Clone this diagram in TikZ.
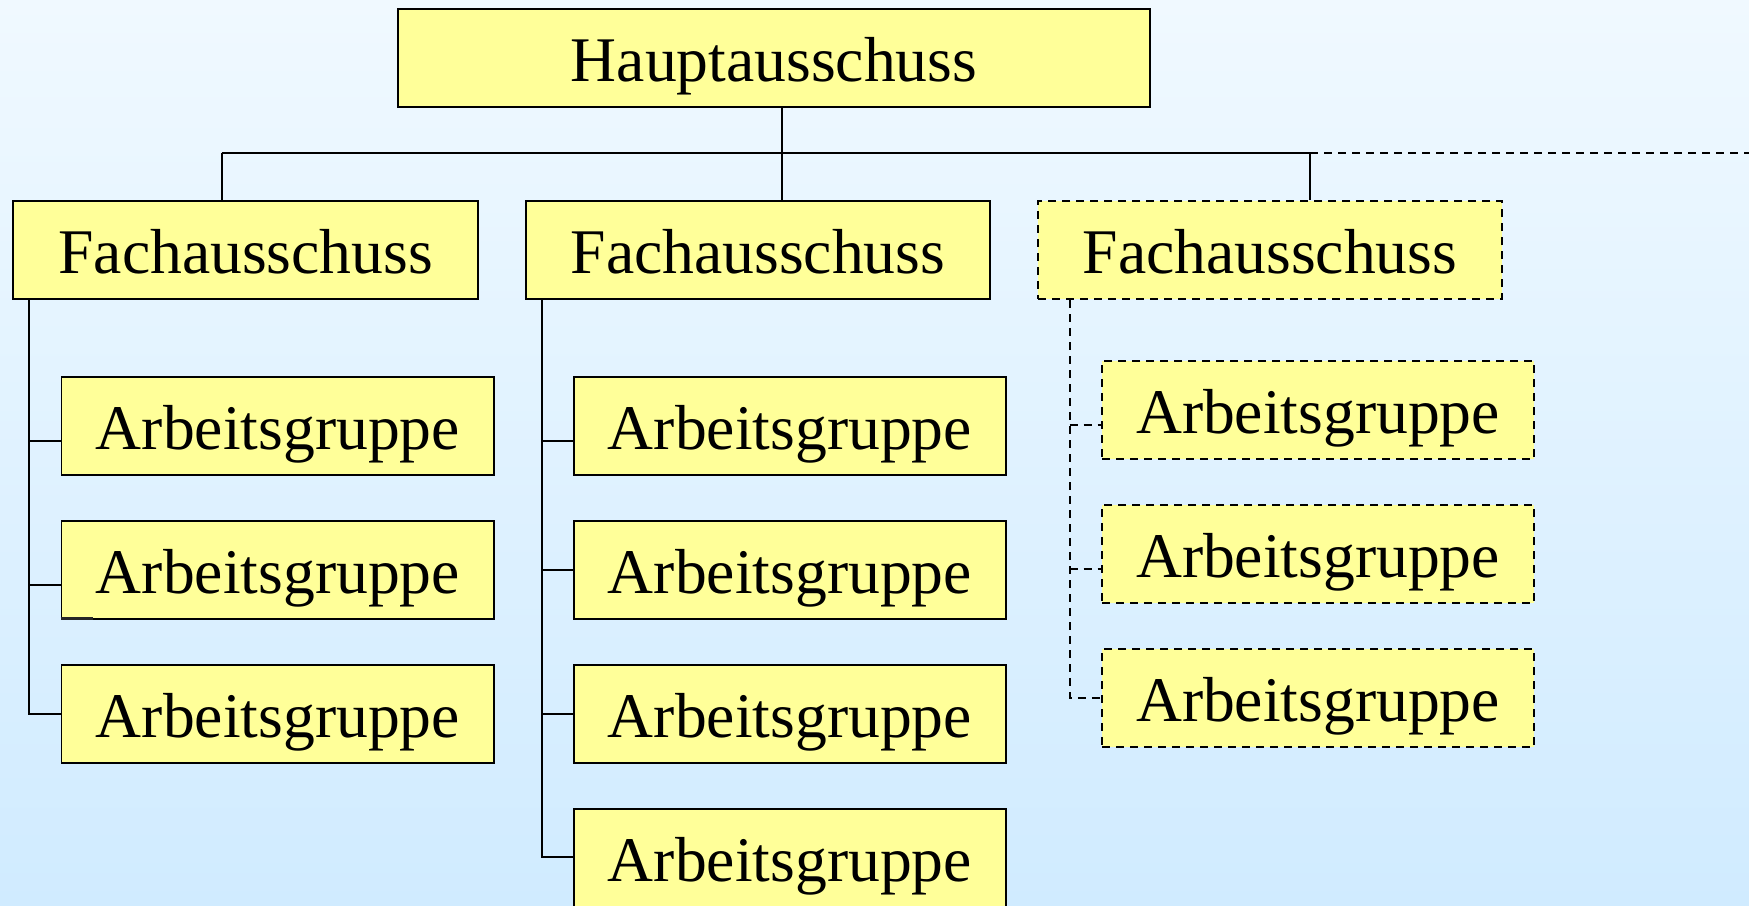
\documentclass[tikz,border=0pt]{standalone}
\usepackage{fontspec}
\setmainfont{Liberation Serif}
\begin{document}
\begin{tikzpicture}[x=0.5pt,y=-0.5pt,
  box/.style={draw=black, line width=0.9pt, fill={rgb,255:red,255;green,255;blue,153},
    inner sep=0pt, minimum height=49pt, text height=23pt, text depth=0pt,
    font=\fontsize{31.8}{36}\selectfont},
  dbox/.style={box, dash pattern=on 4pt off 3pt},
  conn/.style={draw=black, line width=0.9pt},
  dconn/.style={conn, dash pattern=on 4pt off 3pt}]
\fill[top color={rgb,255:red,240;green,249;blue,255}, bottom color={rgb,255:red,208;green,235;blue,255}] (0,0) rectangle (1749,905);
\useasboundingbox (0,0) rectangle (1749,905);

% top
\node[box, minimum width=376pt] (haupt) at (774,58.3) {Hauptausschuss};
% Fachausschuesse
\node[box, minimum width=232.5pt] (f1) at (245.7,250.2) {Fachausschuss};
\node[box, minimum width=232pt] (f2) at (757.9,250.2) {Fachausschuss};
\node[dbox, minimum width=232pt] (f3) at (1270,250.2) {Fachausschuss};
% Arbeitsgruppen column 1
\node[box, minimum width=216.4pt] (a11) at (277.9,426) {Arbeitsgruppe};
\node[box, minimum width=216.4pt] (a12) at (277.9,570) {Arbeitsgruppe};
\node[box, minimum width=216.4pt] (a13) at (277.9,714) {Arbeitsgruppe};
% column 2
\node[box, minimum width=216.2pt] (a21) at (789.9,426) {Arbeitsgruppe};
\node[box, minimum width=216.2pt] (a22) at (789.9,570) {Arbeitsgruppe};
\node[box, minimum width=216.2pt] (a23) at (789.9,714) {Arbeitsgruppe};
\node[box, minimum width=216.2pt] (a24) at (789.9,858) {Arbeitsgruppe};
% column 3
\node[dbox, minimum width=216pt] (a31) at (1318,410) {Arbeitsgruppe};
\node[dbox, minimum width=216pt] (a32) at (1318,554) {Arbeitsgruppe};
\node[dbox, minimum width=216pt] (a33) at (1318,698) {Arbeitsgruppe};

% coordinates
\coordinate (bl) at (221.6,153.3);
\coordinate (bm) at (782,153.3);
\coordinate (br) at (1310,153.3);
\coordinate (bend) at (1749,153.3);
\coordinate (s1) at (29.3,0);
\coordinate (s2) at (541.8,0);
\coordinate (s3) at (1069.7,0);

% top level connectors
\draw[conn] (haupt.south -| bm) -- (f2.north -| bm);
\draw[conn] (bl) -- (br);
\draw[dconn] (br) -- (bend);
\draw[conn] (bl) -- (f1.north -| bl);
\draw[conn] (br) -- (f3.north -| br);

% column 1
\draw[conn] (f1.south -| s1) -- (s1 |- a13.west) -- (a13.west);
\draw[conn] ([yshift=-7.5pt]a11.west -| s1) -- ([yshift=-7.5pt]a11.west);
\draw[conn] ([yshift=-7.5pt]a12.west -| s1) -- ([yshift=-7.5pt]a12.west);
\draw[line width=1.6pt, black!85] ([yshift=0.6pt]a12.south west) -- ([xshift=16pt,yshift=0.6pt]a12.south west);

% column 2
\draw[conn] (f2.south -| s2) -- ([yshift=0.5pt]s2 |- a24.west) -- ([yshift=0.5pt]a24.west);
\draw[conn] ([yshift=-7.5pt]a21.west -| s2) -- ([yshift=-7.5pt]a21.west);
\draw[conn] (a22.west -| s2) -- (a22.west);
\draw[conn] (a23.west -| s2) -- (a23.west);

% column 3
\draw[dconn] (f3.south -| s3) -- (s3 |- a33.west) -- (a33.west);
\draw[dconn] ([yshift=-7.5pt]a31.west -| s3) -- ([yshift=-7.5pt]a31.west);
\draw[dconn] ([yshift=-7.5pt]a32.west -| s3) -- ([yshift=-7.5pt]a32.west);
\end{tikzpicture}
\end{document}
